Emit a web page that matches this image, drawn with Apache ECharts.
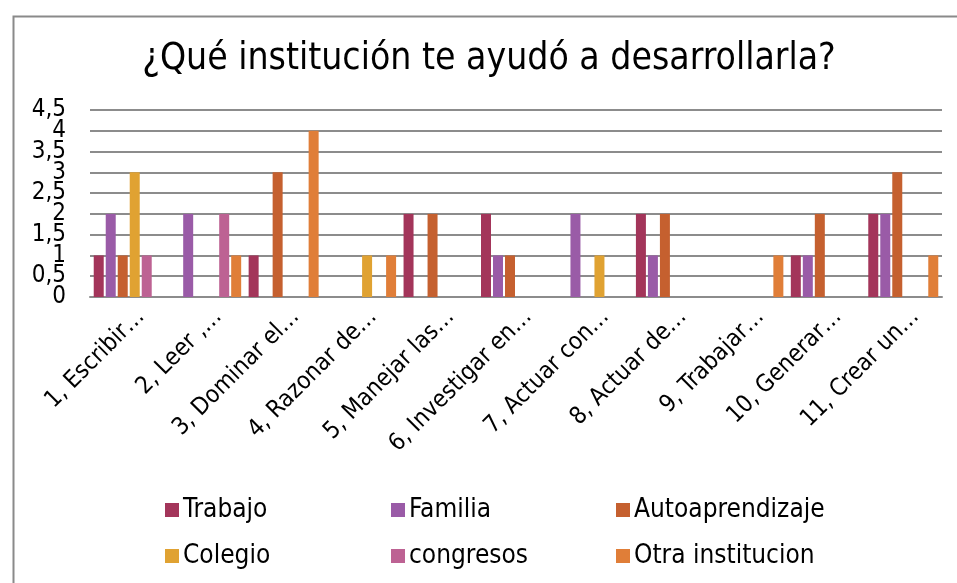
<!DOCTYPE html>
<html>
<head>
<meta charset="utf-8">
<script src="https://cdn.jsdelivr.net/npm/echarts@6/dist/echarts.min.js"></script>
<style>
html,body{margin:0;padding:0;background:#fff;}
#chart{width:957px;height:583px;}
</style>
</head>
<body>
<div id="chart"></div>
<script>
const title = '¿Qué institución te ayudó a desarrollarla?';
const categories = ['1, Escribir…','2, Leer ,…','3, Dominar el…','4, Razonar de…','5, Manejar las…','6, Investigar en…','7, Actuar con…','8, Actuar de…','9, Trabajar…','10, Generar…','11, Crear un…'];
const seriesNames = ['Trabajo','Familia','Autoaprendizaje','Colegio','congresos','Otra institucion'];
const trabajo   = [1, null, 1, null, 2, 2, null, 2, null, 1, 2];
const familia   = [2, 2, null, null, null, 1, 2, 1, null, 1, 2];
const autoap    = [1, null, 3, null, 2, 1, null, 2, null, 2, 3];
const colegio   = [3, null, null, 1, null, null, 1, null, null, null, null];
const congresos = [1, 2, null, null, null, null, null, null, null, null, null];
const otra      = [null, 1, 4, 1, null, null, null, null, 1, null, 1];
const yTicks = [0, 0.5, 1, 1.5, 2, 2.5, 3, 3.5, 4, 4.5];

const colors = ['#A3355A','#9A5BA7','#C5602F','#E0A232','#BD6293','#E07E38'];
const values = [trabajo, familia, autoap, colegio, congresos, otra];
const FONTC = '"DejaVu Sans Condensed", "DejaVu Sans", sans-serif';

const chart = echarts.init(document.getElementById('chart'), null, {renderer:'canvas'});

const legendPos = [
  {left: 160, top: 492}, {left: 386, top: 492}, {left: 611, top: 492},
  {left: 160, top: 538}, {left: 386, top: 538}, {left: 611, top: 538}
];

const fmt = v => String(v).replace('.', ',');
const yMin = yTicks[0], yMax = yTicks[yTicks.length - 1], yStep = yTicks[1] - yTicks[0];

const option = {
  animation: false,
  color: colors,
  title: {
    text: title,
    left: 484,
    textAlign: 'center',
    top: 36,
    textStyle: {fontFamily: FONTC, fontSize: 37, fontWeight: 'normal', color: '#000'}
  },
  legend: seriesNames.map((n, i) => ({
    data: [n],
    left: legendPos[i].left,
    top: legendPos[i].top,
    itemWidth: 14,
    itemHeight: 14,
    itemGap: 0,
    icon: 'rect',
    textStyle: {fontFamily: FONTC, fontSize: 26, color: '#000', padding: [0,0,0,-1]}
  })),
  grid: {left: 90, right: 15, top: 110, bottom: 286, containLabel: false},
  xAxis: {
    type: 'category',
    data: categories,
    axisTick: {show: false},
    axisLine: {show: true, lineStyle: {color: '#8c8c8c', width: 2}},
    axisLabel: {
      rotate: 45,
      interval: 0,
      margin: 4,
      verticalAlign: 'top',
      lineHeight: 34,
      fontFamily: FONTC,
      fontSize: 24,
      color: '#000'
    }
  },
  yAxis: [{
    type: 'value',
    min: yMin,
    max: yMax,
    interval: yStep,
    axisLine: {show: false},
    axisTick: {show: false},
    splitLine: {show: true, lineStyle: {color: '#8c8c8c', width: 2}},
    axisLabel: {
      margin: 24,
      fontFamily: FONTC,
      fontSize: 24,
      color: '#000',
      showMinLabel: true,
      showMaxLabel: true,
      hideOverlap: false,
      formatter: v => (Math.round(v * 2) % 2 === 1 ? fmt(v) : '')
    }
  }, {
    type: 'value',
    position: 'left',
    min: yMin,
    max: yMax,
    interval: yStep * 2,
    axisLine: {show: false},
    axisTick: {show: false},
    splitLine: {show: false},
    axisLabel: {
      margin: 24,
      fontFamily: FONTC,
      fontSize: 24,
      color: '#000',
      showMinLabel: true,
      showMaxLabel: false,
      hideOverlap: false,
      formatter: v => (Math.round(v * 2) % 2 === 0 ? fmt(v) : '')
    }
  }],
  series: seriesNames.map((n, i) => ({
    name: n,
    type: 'bar',
    data: values[i],
    barWidth: 10,
    barGap: '20%',
    itemStyle: {color: colors[i]}
  })),
  graphic: [{
    type: 'rect',
    left: 11, top: 14,
    shape: {width: 980, height: 620},
    style: {fill: null, stroke: '#8a8a8a', lineWidth: 2},
    silent: true,
    z: -1
  }]
};
chart.setOption(option);
</script>
</body>
</html>
